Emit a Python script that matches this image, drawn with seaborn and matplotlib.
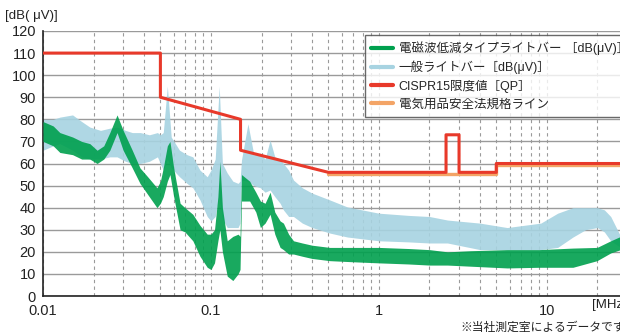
import matplotlib
matplotlib.use("Agg")
import matplotlib.pyplot as plt
import seaborn as sns
import pandas as pd
import numpy as np
from matplotlib.ticker import LogLocator, FixedLocator, NullFormatter

# ---------------- data ----------------
green_f = [0.01, 0.0115, 0.0126, 0.015, 0.017, 0.019, 0.021, 0.023, 0.025, 0.0276,
           0.030, 0.034, 0.0378, 0.042, 0.0477, 0.050, 0.052, 0.055, 0.057, 0.060,
           0.0655, 0.070, 0.078, 0.086, 0.095, 0.100, 0.105, 0.110, 0.113, 0.117,
           0.125, 0.135, 0.145, 0.149, 0.152, 0.170, 0.185, 0.197, 0.210, 0.225,
           0.240, 0.258, 0.270, 0.290, 0.310, 0.350, 0.400, 0.510, 0.700, 1.0,
           1.5, 2.0, 2.56, 3.5, 5.8, 9.0, 14.3, 19.9, 24.0, 27.5, 30.0]
green_lo = [70, 68, 65, 64, 62, 62, 60, 62, 66, 74,
            66, 58, 51, 46, 40, 42, 45, 52, 55, 45,
            30, 29, 25, 18, 13, 12, 15, 25, 30, 20,
            9, 7, 10, 12, 43, 43, 38, 31, 33, 37,
            28, 22, 21, 19, 19, 18, 17, 16, 15.5, 15,
            14.5, 14, 14, 13.5, 12.7, 13, 13, 16, 19.5, 21, 21]
green_hi = [79, 77, 74, 72, 70, 69, 66, 68, 74, 82,
            75, 66, 58, 54, 49, 52, 58, 68, 70, 58,
            42, 40, 37, 32, 28, 28, 30, 45, 61, 40,
            25, 27, 28, 27, 55, 52, 47, 43, 42, 47,
            38, 34, 33, 28, 25, 24, 23, 22, 22, 22,
            21.5, 21, 20, 20.5, 21, 21, 21.7, 22, 25, 27, 27]

blue_f = [0.01, 0.0115, 0.0126, 0.015, 0.017, 0.019, 0.022, 0.025, 0.0276, 0.031,
          0.034, 0.038, 0.043, 0.048, 0.050, 0.052, 0.055, 0.058, 0.065, 0.072,
          0.078, 0.086, 0.095, 0.100, 0.106, 0.112, 0.117, 0.125, 0.135, 0.145,
          0.149, 0.152, 0.166, 0.180, 0.197, 0.210, 0.225, 0.240, 0.258, 0.270,
          0.290, 0.310, 0.350, 0.400, 0.510, 0.650, 1.0, 1.5, 2.0, 2.56,
          4.0, 5.8, 9.2, 11.6, 14.3, 17.0, 20.0, 22.0, 24.0, 27.5, 30.0]
blue_lo = [66, 68, 69, 66, 63, 62, 62, 63, 63, 61,
           60, 60, 61, 63, 60, 57, 62, 58, 54, 51,
           49, 43.5, 36, 34, 36, 45, 35, 31, 31, 31,
           33, 52.5, 52, 50, 49, 47, 48, 45, 42, 39,
           36, 36, 33, 31, 28.5, 26.7, 25, 24.5, 24, 24,
           21, 21, 21, 22, 26.7, 30, 31, 29, 25, 22, 21]
blue_hi = [80, 80, 81, 82, 79, 76.5, 75, 76, 76.5, 75,
           74, 74, 73, 74, 73, 74, 95, 72, 66, 64,
           63, 57, 54, 57, 62, 95, 60, 55.7, 52, 51,
           52, 61.6, 78, 64, 64.7, 62, 70.6, 63, 62, 60,
           57, 52.5, 49, 46.6, 43.5, 40.3, 37.5, 36.5, 36, 34.4,
           33, 31, 33, 37.5, 40, 40, 40, 39, 36, 27, 25]

cispr_f = [0.01, 0.05, 0.05, 0.15, 0.15, 0.5, 2.51, 2.51, 3.0, 3.0, 5.0, 5.0, 30.0]
cispr_v = [110, 110, 90, 80, 66, 56, 56, 73, 73, 56, 56, 60, 60]

denan_f = [0.5, 5.0, 5.0, 30.0]
denan_v = [55.3, 55.3, 59.3, 59.3]

labels = ["電磁波低減タイプライトバー ［dB(μV)］", "一般ライトバー［dB(μV)］",
          "CISPR15限度値［QP］", "電気用品安全法規格ライン"]
xticks = [0.01, 0.1, 1, 10]
xticklabels = ["0.01", "0.1", "1", "10"]
yticks = list(range(0, 121, 10))

C_GREEN = "#00a04e"
C_BLUE = "#a7d3e1"
C_RED = "#e8392a"
C_ORANGE = "#f3a466"

# ---------------- figure ----------------
sns.set_style("white")
plt.rcParams["font.family"] = ["Liberation Sans", "Noto Sans CJK JP", "DejaVu Sans"]

fig = plt.figure(figsize=(6.20, 3.33), dpi=100)
ax = fig.add_axes([43 / 620, 37 / 333, 584 / 620, 265 / 333])

ax.fill_between(blue_f, blue_lo, blue_hi, color=C_BLUE, alpha=0.9, lw=0, zorder=2)
ax.fill_between(green_f, green_lo, green_hi, color=C_GREEN, alpha=0.9, lw=0, zorder=3)

df_o = pd.DataFrame({"f": denan_f, "v": denan_v})
df_r = pd.DataFrame({"f": cispr_f, "v": cispr_v})
sns.lineplot(data=df_o, x="f", y="v", ax=ax, color=C_ORANGE, lw=2.4, sort=False,
             estimator=None, zorder=4)
sns.lineplot(data=df_r, x="f", y="v", ax=ax, color=C_RED, lw=2.2, sort=False,
             estimator=None, zorder=5)

ax.set_xscale("log")
ax.set_xlim(0.01, 30)
ax.set_ylim(0, 120)
ax.set_xlabel("")
ax.set_ylabel("")

ax.xaxis.set_major_locator(FixedLocator(xticks))
ax.set_xticklabels(xticklabels)
ax.xaxis.set_minor_locator(LogLocator(base=10, subs=np.arange(2, 10)))
ax.xaxis.set_minor_formatter(NullFormatter())
ax.set_yticks(yticks)

ax.grid(axis="y", which="major", color="#9a9a9a", lw=1.0, ls="-", zorder=1)
ax.grid(axis="x", which="both", color="#9a9a9a", lw=0.8, ls=(0, (3, 3)), zorder=1)
ax.set_axisbelow(True)

for s in ["top", "right"]:
    ax.spines[s].set_visible(False)
for s in ["left", "bottom"]:
    ax.spines[s].set_color("#222222")
    ax.spines[s].set_linewidth(1.2)

ax.tick_params(axis="x", which="major", direction="in", length=5, width=0.8,
               labelsize=10.5, colors="#222222", pad=6)
ax.tick_params(axis="x", which="minor", direction="in", length=4, width=0.8,
               colors="#222222")
ax.tick_params(axis="y", which="major", direction="out", length=3, width=0.8,
               labelsize=10.5, colors="#222222", pad=2)

fig.text(5 / 620, 1 - 16 / 333, "[dB( μV)]", fontsize=9.5, color="#222222",
         va="center", ha="left")
fig.text(592 / 620, 1 - 305 / 333, "[MHz]", fontsize=9.5, color="#222222",
         va="center", ha="left")
fig.text(460 / 620, 1 - 327 / 333, "※当社測定室によるデータです", fontsize=8.5,
         color="#222222", va="center", ha="left",
         family=["Noto Sans CJK JP", "DejaVu Sans"])

handles = [plt.Line2D([], [], color=c, lw=3) for c in [C_GREEN, C_BLUE, C_RED, C_ORANGE]]
leg = ax.legend(handles, labels, loc="upper left",
                bbox_to_anchor=(365 / 620, 1 - 35 / 333),
                bbox_transform=fig.transFigure, frameon=True, fancybox=False,
                handlelength=1.7, handletextpad=0.5,
                borderpad=0.5, labelspacing=0.45, borderaxespad=0,
                prop={"family": ["Liberation Sans", "Noto Sans CJK JP"], "size": 9})
leg.get_frame().set_edgecolor("#444444")
leg.get_frame().set_linewidth(1.0)
leg.set_zorder(10)

fig.savefig("out.png", dpi=100)
